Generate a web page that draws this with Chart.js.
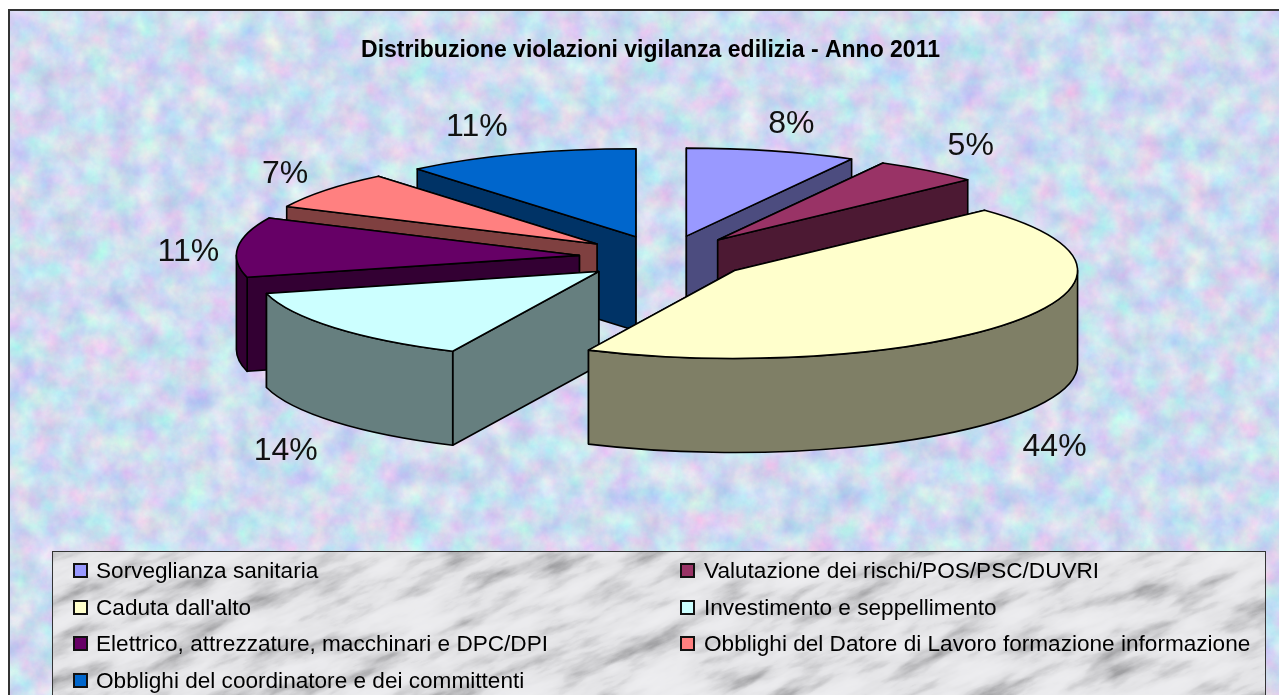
<!DOCTYPE html>
<html lang="it">
  <head>
    <meta charset="UTF-8" />
    <title>Distribuzione violazioni vigilanza edilizia</title>
    <script src="https://cdn.jsdelivr.net/npm/chart.js@4"></script>
    <style>
      html, body { margin: 0; padding: 0; background: #fff; overflow: hidden; }
      #page { position: relative; width: 1279px; height: 695px; overflow: hidden; font-family: "Liberation Sans", Arial, sans-serif; }
      #panel {
        position: absolute; left: 8px; top: 9px; right: -4px; bottom: -4px;
        border: 2px solid #333; box-sizing: border-box;
        background-image: url("data:image/svg+xml,%3Csvg xmlns='http://www.w3.org/2000/svg' width='1300' height='700'%3E%3Cfilter id='n' x='0' y='0' width='100%25' height='100%25' color-interpolation-filters='sRGB'%3E%3CfeTurbulence type='fractalNoise' baseFrequency='0.04' numOctaves='5' seed='7'/%3E%3CfeColorMatrix values='0.36 0 0 0 0.63 0 0.3 0 0 0.71 0 0 0.1 0 0.89 0 0 0 0 1'/%3E%3C/filter%3E%3Crect width='1300' height='700' filter='url(%23n)'/%3E%3C/svg%3E");
      }
      #myChart { position: absolute; left: 0; top: 0; }
      #legendBox {
        position: absolute; left: 52px; top: 551px; width: 1214px; height: 150px;
        border: 1px solid #333; box-sizing: border-box; overflow: hidden;
        background-image: url("data:image/svg+xml,%3Csvg xmlns='http://www.w3.org/2000/svg' width='1300' height='200'%3E%3Cfilter id='m' x='0' y='0' width='100%25' height='100%25' color-interpolation-filters='sRGB'%3E%3CfeTurbulence type='fractalNoise' baseFrequency='0.014 0.05' numOctaves='5' seed='11'/%3E%3CfeColorMatrix values='0 1 0 0 0 0 1 0 0 0 0 1 0 0 0 0 0 0 0 1'/%3E%3CfeComponentTransfer%3E%3CfeFuncR type='table' tableValues='0.6 0.64 0.79 0.89 0.92 0.93 0.94'/%3E%3CfeFuncG type='table' tableValues='0.6 0.64 0.79 0.89 0.92 0.93 0.94'/%3E%3CfeFuncB type='table' tableValues='0.61 0.65 0.8 0.9 0.93 0.94 0.95'/%3E%3C/feComponentTransfer%3E%3C/filter%3E%3Cg transform='rotate(-22 650 100)'%3E%3Crect x='-200' y='-500' width='1700' height='1200' filter='url(%23m)'/%3E%3C/g%3E%3C/svg%3E");
      }
      .item { position: absolute; font-size: 22.6px; line-height: 24px; color: #000; white-space: nowrap; }
      .swatch { position: absolute; width: 15px; height: 15px; box-sizing: border-box; border: 2px solid #111; }
    </style>
  </head>
  <body>
    <div id="page">
      <div id="panel"></div>
      <canvas id="myChart" width="1279" height="695"></canvas>
      <div id="legendBox"></div>
    </div>
    <script>
      const chartTitle = "Distribuzione violazioni vigilanza edilizia - Anno 2011";
      const categories = [
        "Sorveglianza sanitaria",
        "Valutazione dei rischi/POS/PSC/DUVRI",
        "Caduta dall'alto",
        "Investimento e seppellimento",
        "Elettrico, attrezzature, macchinari e DPC/DPI",
        "Obblighi del Datore di Lavoro formazione informazione",
        "Obblighi del coordinatore e dei committenti"
      ];
      const values = [8, 5, 44, 14, 11, 7, 11];
      const topColors = ["#9999FF", "#993366", "#FFFFCC", "#CCFFFF", "#660066", "#FF8080", "#0066CC"];
      const sideColors = ["#4C4C7F", "#4C1933", "#7F7F66", "#667F7F", "#330033", "#7F4040", "#003366"];

      // look of the 3d pie
      const pieX = 665, pieY = 257.5, pieRadius = 343;
      const squash = 0.2566, depth = 94, explode = 86;
      // back slices first
      const drawOrder = [0, 6, 1, 5, 4, 3, 2];
      // where the % text sits, from the centre of its slice
      const labelShift = [[105, -112], [253, -94], [320, 177], [-313, 180], [-391, -3], [-312, -70], [-159, -110]];

      const pie3d = {
        id: 'pie3d',
        beforeDatasetsDraw(chart) {
          const ctx = chart.ctx;
          const arcs = chart.getDatasetMeta(0).data;

          drawOrder.forEach(function (i) {
            const arc = arcs[i];
            const mid = (arc.startAngle + arc.endAngle) / 2;
            const cx = pieX + Math.cos(mid) * explode;
            const cy = pieY + Math.sin(mid) * explode * squash;
            const rx = arc.outerRadius, ry = arc.outerRadius * squash;
            const a0 = arc.startAngle, a1 = arc.endAngle;

            ctx.save();
            ctx.lineWidth = 1.6;
            ctx.lineJoin = 'round';
            ctx.strokeStyle = '#000';
            ctx.fillStyle = sideColors[i];

            // the two cut walls, the one nearer the viewer goes last
            const walls = Math.sin(a0) > Math.sin(a1) ? [a1, a0] : [a0, a1];
            walls.forEach(function (a) {
              const ex = cx + Math.cos(a) * rx, ey = cy + Math.sin(a) * ry;
              ctx.beginPath();
              ctx.moveTo(cx, cy);
              ctx.lineTo(ex, ey);
              ctx.lineTo(ex, ey + depth);
              ctx.lineTo(cx, cy + depth);
              ctx.closePath();
              ctx.fill();
              ctx.stroke();
            });

            // outer wall, only the front half shows
            const w0 = Math.max(a0, 0), w1 = Math.min(a1, Math.PI);
            if (w1 > w0) {
              ctx.beginPath();
              ctx.ellipse(cx, cy, rx, ry, 0, w0, w1);
              ctx.lineTo(cx + Math.cos(w1) * rx, cy + Math.sin(w1) * ry + depth);
              ctx.ellipse(cx, cy + depth, rx, ry, 0, w1, w0, true);
              ctx.closePath();
              ctx.fill();
              ctx.stroke();
            }

            // top face is the library's own arc, squashed
            ctx.save();
            ctx.translate(cx, cy);
            ctx.scale(1, squash);
            ctx.translate(-arc.x, -arc.y);
            arc.draw(ctx);
            ctx.restore();

            ctx.beginPath();
            ctx.moveTo(cx, cy);
            ctx.ellipse(cx, cy, rx, ry, 0, a0, a1);
            ctx.closePath();
            ctx.stroke();
            ctx.restore();
          });

          // percent labels
          ctx.save();
          ctx.font = '32px "Liberation Sans", Arial, sans-serif';
          ctx.fillStyle = '#111';
          ctx.textAlign = 'center';
          ctx.textBaseline = 'middle';
          arcs.forEach(function (arc, i) {
            const mid = (arc.startAngle + arc.endAngle) / 2;
            const cx = pieX + Math.cos(mid) * explode;
            const cy = pieY + Math.sin(mid) * explode * squash;
            ctx.fillText(values[i] + '%', cx + labelShift[i][0], cy + labelShift[i][1]);
          });
          ctx.restore();
          return false;
        }
      };

      new Chart(document.getElementById('myChart').getContext('2d'), {
        type: 'pie',
        data: {
          labels: categories,
          datasets: [{
            data: values,
            backgroundColor: topColors,
            borderWidth: 0
          }]
        },
        options: {
          responsive: false,
          animation: false,
          radius: pieRadius,
          layout: { padding: { left: 22 } },
          plugins: {
            legend: { display: false },
            tooltip: { enabled: false },
            title: {
              display: true,
              text: chartTitle,
              color: '#000',
              font: { family: '"Liberation Sans", Arial, sans-serif', size: 23, weight: 'bold' },
              padding: { top: 37, bottom: 10 }
            }
          }
        },
        plugins: [pie3d]
      });

      // legend goes row by row in two columns
      const legendBox = document.getElementById('legendBox');
      categories.forEach(function (name, i) {
        const col = i % 2, row = Math.floor(i / 2);
        const top = 7 + row * 36.7;
        const swatch = document.createElement('div');
        swatch.className = 'swatch';
        swatch.style.left = (col ? 627 : 20) + 'px';
        swatch.style.top = (top + 4) + 'px';
        swatch.style.background = topColors[i];
        legendBox.appendChild(swatch);
        const item = document.createElement('div');
        item.className = 'item';
        item.style.left = (col ? 651 : 43) + 'px';
        item.style.top = top + 'px';
        item.textContent = name;
        legendBox.appendChild(item);
      });
    </script>
  </body>
</html>
